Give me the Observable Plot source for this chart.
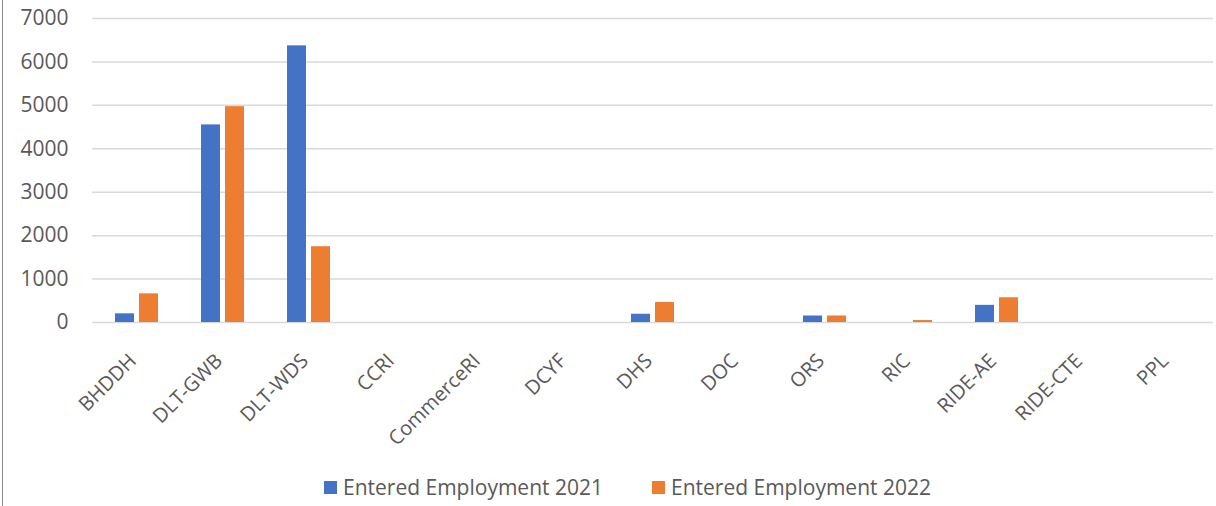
<!DOCTYPE html>
<html><head><meta charset="utf-8">
<script src="https://cdn.jsdelivr.net/npm/d3@7"></script>
<script src="https://cdn.jsdelivr.net/npm/@observablehq/plot@0.6"></script>
<style>
body{margin:0;background:#fff;font-family:"Open Sans",sans-serif;}
#wrap{position:relative;width:1216px;height:506px;overflow:hidden;background:#fff;}
#border{position:absolute;left:2px;top:0;width:1px;height:506px;background:#8a8a8a;}
#legend{position:absolute;left:0;top:460px;width:1216px;height:46px;}
.item{position:absolute;top:0;height:46px;display:flex;align-items:center;padding-top:8px;box-sizing:border-box;font-size:21px;color:#595959;white-space:nowrap;}
.sw{width:13px;height:13px;margin-right:6px;}
</style></head><body>
<div id="wrap"><div id="chart"></div><div id="legend"></div><div id="border"></div></div>
<script>
const categories = ["BHDDH","DLT-GWB","DLT-WDS","CCRI","CommerceRI","DCYF","DHS","DOC","ORS","RIC","RIDE-AE","RIDE-CTE","PPL"];
const employment2021 = [200, 4550, 6370, 0, 0, 0, 190, 0, 150, 0, 395, 0, 0];
const employment2022 = [660, 4970, 1745, 0, 0, 0, 460, 0, 150, 45, 570, 0, 0];
const seriesNames = ["Entered Employment 2021", "Entered Employment 2022"];
const seriesColors = ["#4472C4", "#ED7D31"];
const yTicks = [0, 1000, 2000, 3000, 4000, 5000, 6000, 7000];

const rows2021 = categories.map((c, i) => ({category: c, value: employment2021[i]}));
const rows2022 = categories.map((c, i) => ({category: c, value: employment2022[i]}));

const chart = Plot.plot({
  width: 1216, height: 460,
  marginLeft: 92, marginRight: 3, marginTop: 18, marginBottom: 138,
  style: {fontFamily: "Open Sans", fontSize: "21px", color: "#595959", background: "white", overflow: "visible"},
  x: {domain: categories, paddingInner: 0.5, paddingOuter: 0.25, label: null},
  y: {domain: [0, 7000], label: null},
  marks: [
    Plot.ruleY(yTicks, {stroke: "#D9D9D9", strokeWidth: 1.5}),
    Plot.barY(rows2021, {x: "category", y: "value", fill: seriesColors[0], insetRight: 24}),
    Plot.barY(rows2022, {x: "category", y: "value", fill: seriesColors[1], insetLeft: 24}),
    Plot.axisY({ticks: yTicks, tickFormat: d => String(d), tickSize: 0, tickPadding: 24, fontSize: 21, fill: "#595959", label: null}),
    Plot.axisX({tickSize: 0, tickRotate: -45, tickPadding: 35, dx: -4, fontSize: 20, fill: "#595959", label: null})
  ]
});
document.getElementById("chart").appendChild(chart);

const legend = document.getElementById("legend");
const lefts = [324, 652];
seriesNames.forEach((name, i) => {
  const it = document.createElement("div");
  it.className = "item";
  it.style.left = lefts[i] + "px";
  it.innerHTML = `<span class="sw" style="background:${seriesColors[i]}"></span><span>${name}</span>`;
  legend.appendChild(it);
});
</script>
</body></html>
